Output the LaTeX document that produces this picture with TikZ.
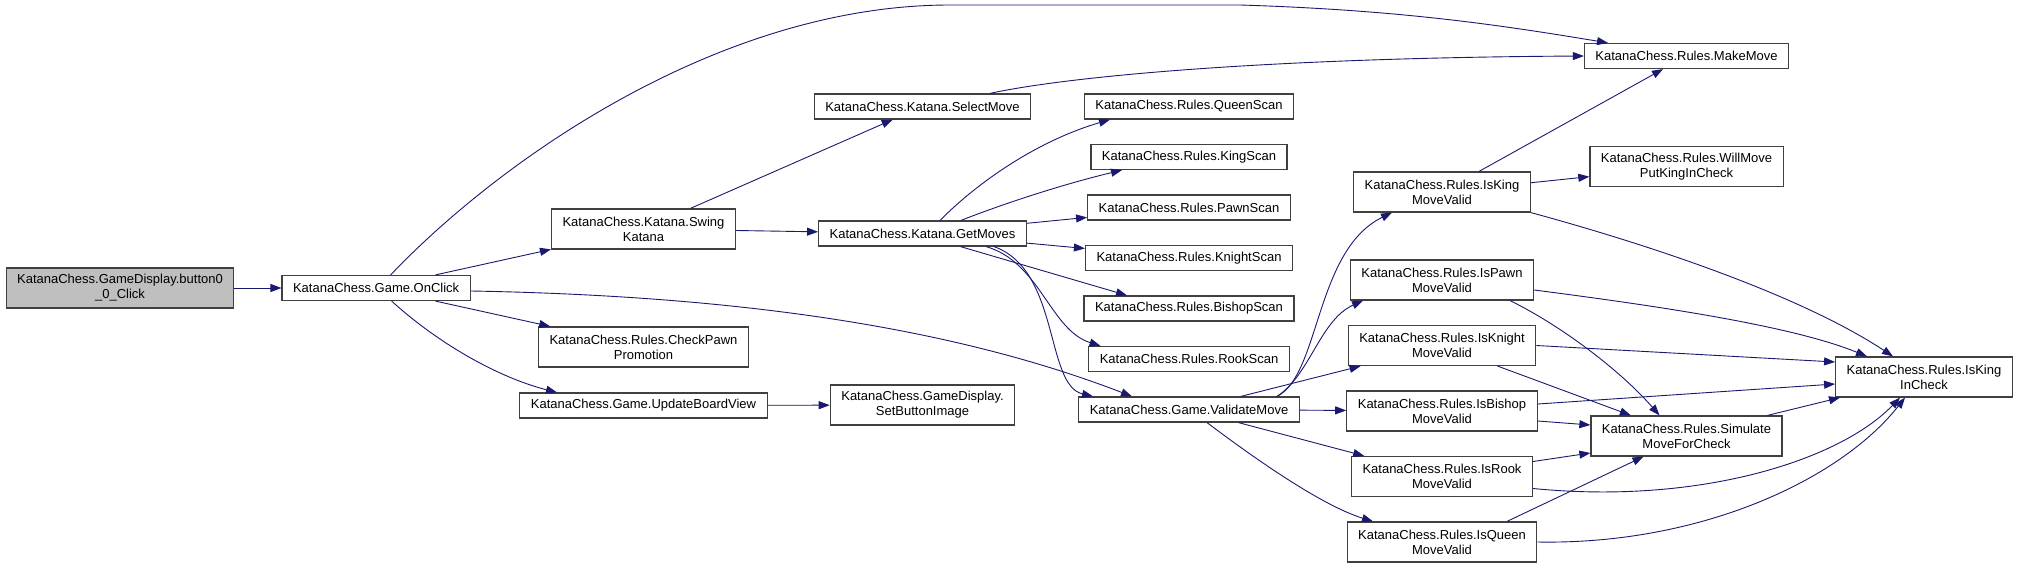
\documentclass[tikz,border=0pt]{standalone}
\usepackage{fontspec}
\setmainfont{Liberation Sans}
\usetikzlibrary{arrows.meta, positioning}

\definecolor{edgeblue}{HTML}{191970}
\definecolor{nodeline}{HTML}{404040}
\definecolor{rootfill}{HTML}{BFBFBF}

\begin{document}
\begin{tikzpicture}[
    x=1pt, y=-1pt,
    node distance=24.3pt,
    func/.style={
        rectangle,
        draw=nodeline,
        fill=white,
        line width=1.2pt,
        minimum height=25pt,
        inner xsep=11pt,
        inner ysep=6pt,
        align=center,
        font=\fontsize{13}{15}\selectfont
    },
    twoline/.style={func, minimum height=40pt},
    root/.style={twoline, fill=rootfill},
    call/.style={
        -{Triangle[length=11pt,width=8pt]},
        draw=edgeblue,
        line width=0.9pt
    }
]
    \useasboundingbox (0,0) rectangle (2019,567);

    % Nodes
    \node [root] (button) at (120,288) {KatanaChess.GameDisplay.button0\\\_0\_Click};
    \node [func, right=47pt of button] (onclick) {KatanaChess.Game.OnClick};

    \node [twoline] (swing) at (643.5,229) {KatanaChess.Katana.Swing\\Katana};
    \node [twoline] (checkpawn) at (643.5,347) {KatanaChess.Rules.CheckPawn\\Promotion};
    \node [func] (updateview) at (643.5,405.5) {KatanaChess.Game.UpdateBoardView};

    \node [func] (selectmove) at (922.5,106.5) {KatanaChess.Katana.SelectMove};
    \node [func] (getmoves) at (922.5,233.5) {KatanaChess.Katana.GetMoves};
    \node [twoline] (setimage) at (922.5,405) {KatanaChess.GameDisplay.\\SetButtonImage};

    \node [func] (queenscan) at (1189,106.5) {KatanaChess.Rules.QueenScan};
    \node [func, below=of queenscan] (kingscan) {KatanaChess.Rules.KingScan};
    \node [func, below=of kingscan] (pawnscan) {KatanaChess.Rules.PawnScan};
    \node [func, below=of pawnscan] (knightscan) {KatanaChess.Rules.KnightScan};
    \node [func, below=of knightscan] (bishopscan) {KatanaChess.Rules.BishopScan};
    \node [func, below=of bishopscan] (rookscan) {KatanaChess.Rules.RookScan};
    \node [func, below=of rookscan] (validate) {KatanaChess.Game.ValidateMove};

    \node [twoline] (kingvalid) at (1442,192) {KatanaChess.Rules.IsKing\\MoveValid};
    \node [twoline, below=46.8pt of kingvalid] (pawnvalid) {KatanaChess.Rules.IsPawn\\MoveValid};
    \node [twoline, below=of pawnvalid] (knightvalid) {KatanaChess.Rules.IsKnight\\MoveValid};
    \node [twoline, below=of knightvalid] (bishopvalid) {KatanaChess.Rules.IsBishop\\MoveValid};
    \node [twoline, below=of bishopvalid] (rookvalid) {KatanaChess.Rules.IsRook\\MoveValid};
    \node [twoline, below=of rookvalid] (queenvalid) {KatanaChess.Rules.IsQueen\\MoveValid};

    \node [func] (makemove) at (1686.5,56) {KatanaChess.Rules.MakeMove};
    \node [twoline] (willmove) at (1686.5,166.5) {KatanaChess.Rules.WillMove\\PutKingInCheck};
    \node [twoline] (simulate) at (1686.5,436) {KatanaChess.Rules.Simulate\\MoveForCheck};
    \node [twoline] (kingcheck) at (1924,377) {KatanaChess.Rules.IsKing\\InCheck};

    % Calls from the button and OnClick
    \draw [call] (button) -- (onclick);
    \draw [call] ([xshift=14.5pt]onclick.north) .. controls (500,160) and (720,5) .. (950,5)
        -- (1240,5) .. controls (1400,10) and (1500,25) .. ([xshift=-78.5pt]makemove.north);
    \draw [call] (onclick) -- (swing);
    \draw [call] (onclick) -- (checkpawn);
    \draw [call] ([xshift=15.5pt]onclick.south) .. controls (440,345) and (500,378) .. ([xshift=-86.5pt]updateview.north);
    \draw [call] ([yshift=-3pt]onclick.east) .. controls (750,296) and (960,330) .. ([xshift=-57pt]validate.north);

    % Katana
    \draw [call] (swing) -- (selectmove);
    \draw [call] (swing) -- (getmoves);
    \draw [call] ([xshift=67.5pt]selectmove.north) .. controls (1060,78) and (1250,58) .. (makemove.west);
    \draw [call] ([xshift=17.5pt]getmoves.north) .. controls (980,180) and (1040,140) .. ([xshift=-79pt]queenscan.south);
    \draw [call] ([xshift=38.5pt]getmoves.north) .. controls (1000,205) and (1060,185) .. ([xshift=-67pt]kingscan.south);
    \draw [call] (getmoves) -- (pawnscan);
    \draw [call] (getmoves) -- (knightscan);
    \draw [call] ([xshift=38pt]getmoves.south) -- ([xshift=-62pt]bishopscan.north);
    \draw [call] ([xshift=63.5pt]getmoves.south) .. controls (1040,262) and (1050,330) .. ([xshift=-88.5pt]rookscan.north);
    \draw [call] ([xshift=71.5pt]getmoves.south) .. controls (1060,270) and (1045,385) .. ([xshift=-96pt]validate.north);
    \draw [call] (updateview) -- (setimage);

    % ValidateMove
    \draw [call] ([xshift=88pt]validate.north) .. controls (1320,375) and (1315,250) .. ([xshift=-50pt]kingvalid.south);
    \draw [call] ([xshift=88pt]validate.north) .. controls (1310,375) and (1320,320) .. ([xshift=-79pt]pawnvalid.south);
    \draw [call] (validate) -- (knightvalid);
    \draw [call] (validate) -- (bishopvalid);
    \draw [call] (validate) -- (rookvalid);
    \draw [call] ([xshift=18pt]validate.south) .. controls (1250,455) and (1320,505) .. ([xshift=-69pt]queenvalid.north);

    % Rules
    \draw [call] (kingvalid) -- (makemove);
    \draw [call] (kingvalid) -- (willmove);
    \draw [call] (kingvalid.south east) .. controls (1650,245) and (1800,295) .. ([xshift=-31pt]kingcheck.north);
    \draw [call] ([yshift=-10pt]pawnvalid.east) .. controls (1650,305) and (1790,325) .. ([xshift=-57pt]kingcheck.north);
    \draw [call] ([xshift=68pt]pawnvalid.south) .. controls (1560,325) and (1620,370) .. ([xshift=-27pt]simulate.north);
    \draw [call] (knightvalid.east) -- ([yshift=15pt]kingcheck.west);
    \draw [call] (knightvalid) -- (simulate);
    \draw [call] ([yshift=7pt]bishopvalid.east) -- ([yshift=-7pt]kingcheck.west);
    \draw [call] ([yshift=-10pt]bishopvalid.east) -- ([yshift=11pt]simulate.west);
    \draw [call] ([yshift=15pt]rookvalid.east) -- ([yshift=-17pt]simulate.west);
    \draw [call] ([yshift=-12pt]rookvalid.east) .. controls (1700,505) and (1840,460) .. ([xshift=-24pt]kingcheck.south);
    \draw [call] ([xshift=65pt]queenvalid.north) -- ([xshift=-43pt]simulate.south);
    \draw [call] (queenvalid.east) .. controls (1700,545) and (1840,480) .. ([xshift=-19pt]kingcheck.south);
    \draw [call] ([xshift=81pt]simulate.north) -- ([xshift=-84pt]kingcheck.south);
\end{tikzpicture}
\end{document}
